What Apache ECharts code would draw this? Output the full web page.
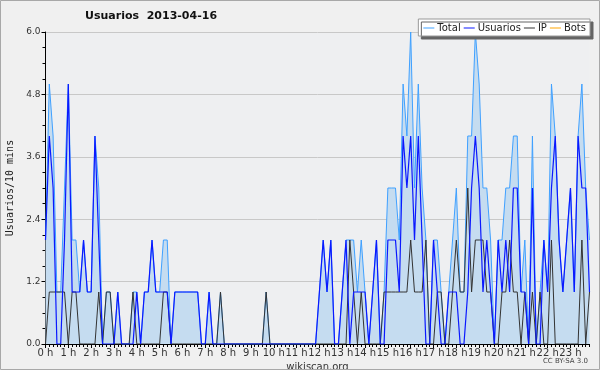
<!DOCTYPE html>
<html><head><meta charset="utf-8">
<script src="https://cdn.jsdelivr.net/npm/echarts@6/dist/echarts.min.js"></script>
<style>html,body{margin:0;padding:0;background:#f0f0f0}#c{width:600px;height:370px}</style>
</head><body><div id="c"></div>
<script>
const hourLabels = ['0 h','1 h','2 h','3 h','4 h','5 h','6 h','7 h','8 h','9 h','10 h','11 h','12 h','13 h','14 h','15 h','16 h','17 h','18 h','19 h','20 h','21 h','22 h','23 h'];
const minutes = ['00','10','20','30','40','50'];
const yTicks = [0, 1.2, 2.4, 3.6, 4.8, 6.0];

const usuarios = [
 2,4,3,0,0,2, 5,1,1,1,2,1, 1,4,2,0,0,0, 0,1,0,0,0,0,
 1,0,1,1,2,1, 1,1,1,0,1,1, 1,1,1,1,1,0, 0,1,0,0,0,0,
 0,0,0,0,0,0, 0,0,0,0,0,0, 0,0,0,0,0,0, 0,0,0,0,0,0,
 1,2,1,2,0,0, 1,2,0,1,1,1, 1,0,1,2,0,0, 2,2,2,1,4,3,
 4,2,4,2,0,0, 2,1,0,0,1,1, 1,0,0,1,3,4, 3,1,2,1,0,2,
 1,2,1,3,3,1, 1,0,3,0,0,2, 1,3,4,2,1,2, 3,1,4,3,3,1
];
const ip = [
 0,1,1,1,1,1, 0,1,1,0,0,0, 0,0,1,0,1,1, 0,0,0,0,0,1,
 0,0,0,0,0,0, 0,1,1,0,0,0, 0,0,0,0,0,0, 0,0,0,0,1,0,
 0,0,0,0,0,0, 0,0,0,0,1,0, 0,0,0,0,0,0, 0,0,0,0,0,0,
 0,0,0,0,0,0, 0,0,2,1,0,1, 0,0,0,0,0,1, 1,1,1,1,1,1,
 2,1,1,1,2,0, 0,1,1,0,0,1, 2,1,1,3,1,2, 2,2,1,1,0,0,
 1,1,2,1,1,0, 1,0,1,0,1,0, 0,2,0,0,0,0, 0,0,0,2,0,1
];
const total = [
 2,5,4,1,1,3, 5,2,2,1,2,1, 1,4,3,0,1,1, 0,1,0,0,0,1,
 1,0,1,1,2,1, 1,2,2,0,1,1, 1,1,1,1,1,0, 0,1,0,0,1,0,
 0,0,0,0,0,0, 0,0,0,0,1,0, 0,0,0,0,0,0, 0,0,0,0,0,0,
 1,2,1,2,0,0, 1,2,2,2,1,2, 1,0,1,2,0,1, 3,3,3,2,5,4,
 6,3,5,3,2,0, 2,2,1,0,1,2, 3,1,1,4,4,6, 5,3,3,2,0,2,
 2,3,3,4,4,1, 2,0,4,0,1,2, 1,5,4,2,1,2, 3,1,4,5,3,2
];
const bots = [];

const slots = [];
hourLabels.forEach(h => minutes.forEach(m => slots.push(h.replace(' h','') + ':' + m)));

const chart = echarts.init(document.getElementById('c'), null, {renderer:'canvas'});
const FONT = "'DejaVu Sans',sans-serif";
chart.setOption({
  animation:false,
  backgroundColor:'#f0f0f0',
  title:{text:'Usuarios  2013-04-16', left:85, top:11, padding:0,
    textStyle:{fontFamily:FONT, fontSize:11, fontWeight:'bold', color:'#111'}},
  legend:{
    right:10, top:19, orient:'horizontal',
    backgroundColor:'#fff', borderColor:'#999', borderWidth:1,
    shadowColor:'rgba(100,100,100,1)', shadowOffsetX:3, shadowOffsetY:3, shadowBlur:0,
    padding:[4,4,3,5], itemGap:3, itemWidth:11, itemHeight:1, icon:'rect',
    textStyle:{fontFamily:FONT, fontSize:10, color:'#222', padding:[0,0,0,-2]},
    data:['Total','Usuarios','IP','Bots']
  },
  grid:{left:45.5, right:10.5, top:32, bottom:26, show:true, backgroundColor:'#eeeff1', borderWidth:0, outerBoundsMode:'none'},
  xAxis:[{
    type:'category', data:slots, boundaryGap:false,
    axisLine:{lineStyle:{color:'#000', width:1}},
    axisTick:{show:true, interval:0, length:3, lineStyle:{color:'#000'}},
    axisLabel:{interval:5, margin:4, fontFamily:FONT, fontSize:10, color:'#333',
      formatter:(v,i)=>hourLabels[Math.floor(i/6)]},
    name:'wikiscan.org', nameLocation:'middle', nameGap:11,
    nameTextStyle:{fontFamily:FONT, fontSize:10, color:'#333'}
  },{
    type:'category', data:slots, boundaryGap:false, position:'bottom',
    axisLine:{show:false}, axisLabel:{show:false},
    axisTick:{show:true, interval:5, length:4, lineStyle:{color:'#000'}}
  }],
  yAxis:{
    type:'value', min:yTicks[0], max:yTicks[yTicks.length-1], interval:1.2,
    axisLine:{show:true, lineStyle:{color:'#000'}},
    axisTick:{show:true, length:4, lineStyle:{color:'#000'}},
    minorTick:{show:true, splitNumber:4, length:3, lineStyle:{color:'#000'}},
    splitLine:{lineStyle:{color:'#c8c8c8', width:1}},
    axisLabel:{fontFamily:FONT, fontSize:9, color:'#333', margin:5, formatter:v=>v.toFixed(1)},
    name:'Usuarios/10 mins', nameLocation:'middle', nameRotate:90, nameGap:30,
    nameTextStyle:{fontFamily:"'DejaVu Sans Mono',monospace", fontSize:10, color:'#222'}
  },
  series:[
    {name:'Total', type:'line', data:total, symbol:'none', z:2,
      lineStyle:{color:'#3fa0ff', width:1}, itemStyle:{color:'#3fa0ff'},
      areaStyle:{color:'#c5dcf0', opacity:1}},
    {name:'Usuarios', type:'line', data:usuarios, symbol:'none', z:4,
      lineStyle:{color:'#0a18ff', width:1.2}, itemStyle:{color:'#0a18ff'}},
    {name:'IP', type:'line', data:ip, symbol:'none', z:3,
      lineStyle:{color:'#333', width:1}, itemStyle:{color:'#333'}},
    {name:'Bots', type:'line', data:bots, symbol:'none', z:1,
      lineStyle:{color:'#ffa500', width:1}, itemStyle:{color:'#ffa500'}}
  ],
  graphic:[
    {type:'rect', shape:{x:0.5,y:0.5,width:599,height:369}, style:{fill:'none', stroke:'#a8a8a8', lineWidth:1}, z:100},
    {type:'text', right:12, top:358, style:{text:'CC BY-SA 3.0', font:"7px "+FONT, fill:'#444'}}
  ]
});
</script></body></html>
